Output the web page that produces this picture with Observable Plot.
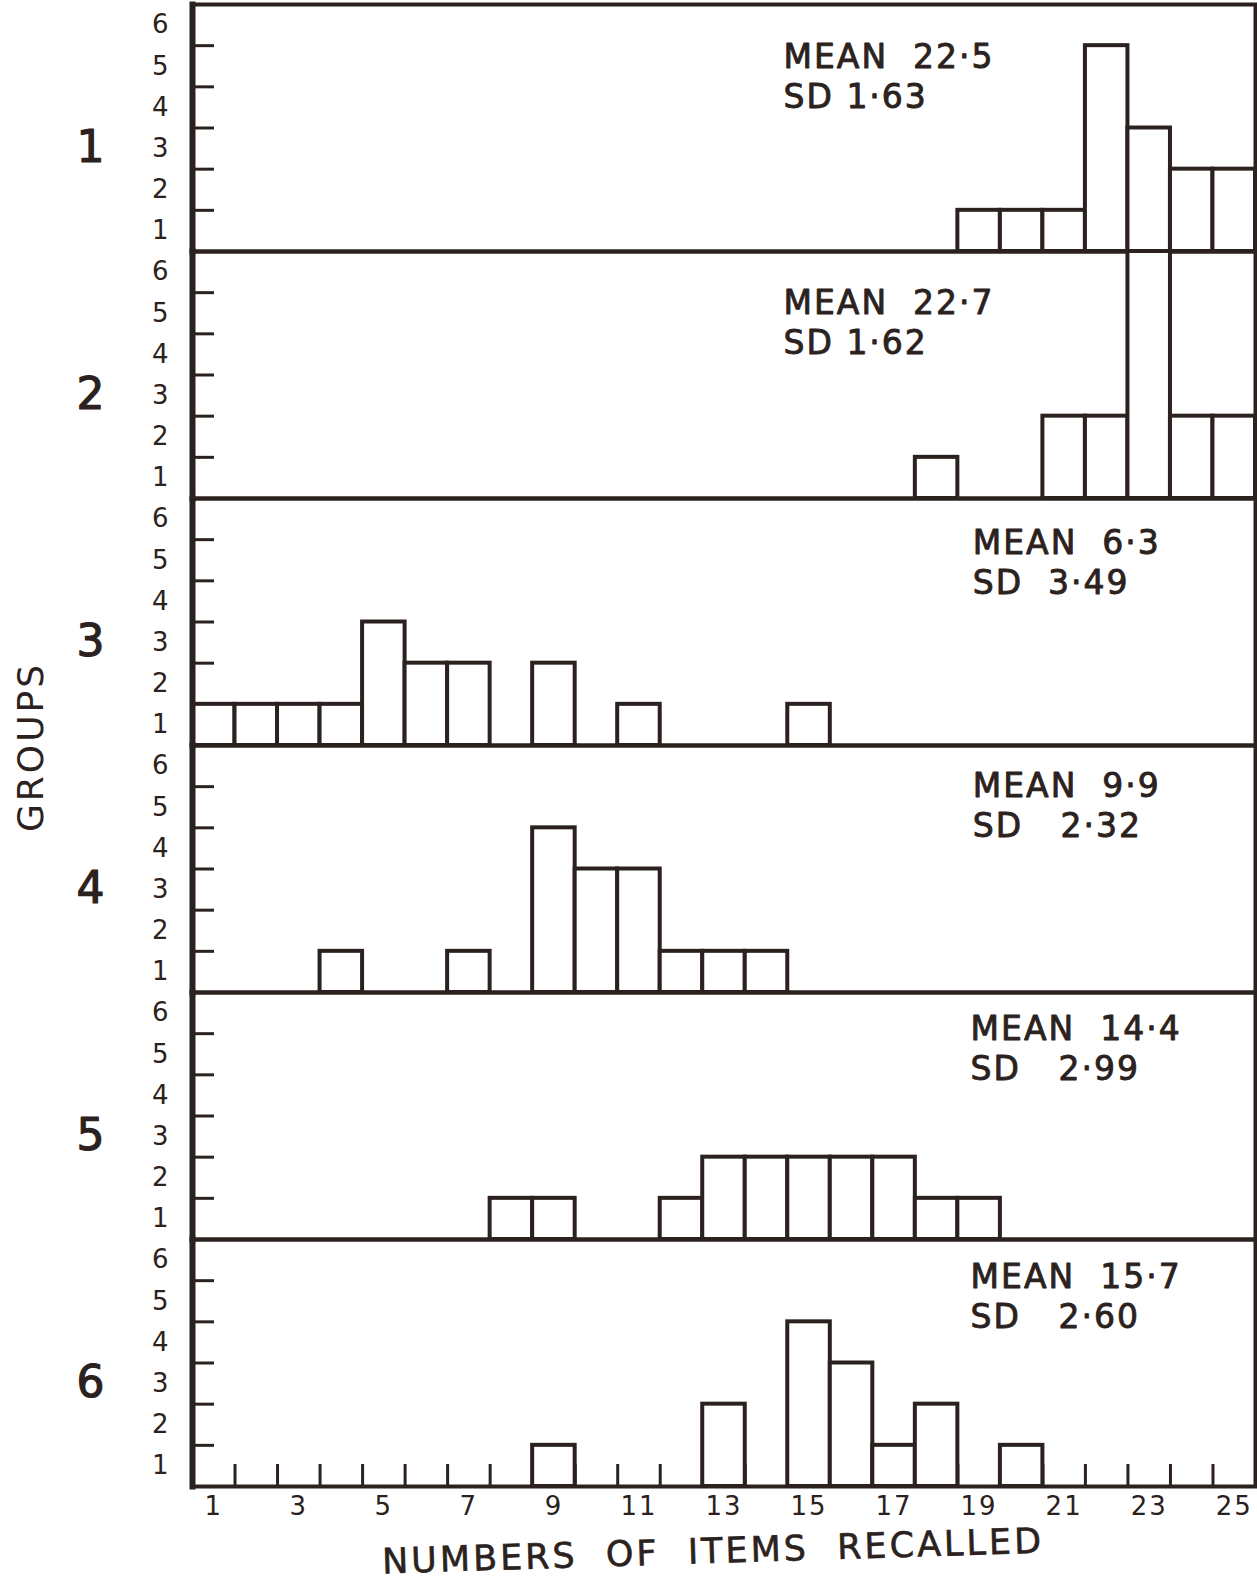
<!DOCTYPE html>
<html>
<head>
<meta charset="utf-8">
<script src="https://cdn.jsdelivr.net/npm/d3@7"></script>
<script src="https://cdn.jsdelivr.net/npm/@observablehq/plot@0.6"></script>
<style>
  html, body { margin: 0; padding: 0; background: #ffffff; overflow: hidden; }
  #chart svg { display: block; }
  #chart svg text { white-space: pre; letter-spacing: 2px; }
</style>
</head>
<body>
<div id="chart"></div>
<script>
// ---- data ----
const groups = [1, 2, 3, 4, 5, 6];
const scoreTicks = [1, 3, 5, 7, 9, 11, 13, 15, 17, 19, 21, 23, 25];
const scoreBins = [1,2,3,4,5,6,7,8,9,10,11,12,13,14,15,16,17,18,19,20,21,22,23,24,25];
const yTicks = [1, 2, 3, 4, 5];
const yLabels = [1, 2, 3, 4, 5, 6];

const g1Scores = [19, 20, 21, 22, 23, 24, 25];
const g1Counts = [1, 1, 1, 5, 3, 2, 2];
const g2Scores = [18, 21, 22, 23, 24, 25];
const g2Counts = [1, 2, 2, 6, 2, 2];
const g3Scores = [1, 2, 3, 4, 5, 6, 7, 9, 11, 15];
const g3Counts = [1, 1, 1, 1, 3, 2, 2, 2, 1, 1];
const g4Scores = [4, 7, 9, 10, 11, 12, 13, 14];
const g4Counts = [1, 1, 4, 3, 3, 1, 1, 1];
const g5Scores = [8, 9, 12, 13, 14, 15, 16, 17, 18, 19];
const g5Counts = [1, 1, 1, 2, 2, 2, 2, 2, 1, 1];
const g6Scores = [9, 13, 15, 16, 17, 18, 20];
const g6Counts = [1, 2, 4, 3, 1, 2, 1];

const meanLabels = ["MEAN  22·5", "MEAN  22·7", "MEAN  6·3", "MEAN  9·9", "MEAN  14·4", "MEAN  15·7"];
const sdLabels   = ["SD 1·63", "SD 1·62", "SD  3·49", "SD   2·32", "SD   2·99", "SD   2·60"];
// annotation anchors (in data units) for the MEAN line of each panel
const annotX = [14.4, 14.4, 18.85, 18.85, 18.8, 18.8];
const annotY = [4.72, 4.75, 4.91, 5.0, 5.1, 5.09];

// ---- build table ----
const series = [
  [1, g1Scores, g1Counts], [2, g2Scores, g2Counts], [3, g3Scores, g3Counts],
  [4, g4Scores, g4Counts], [5, g5Scores, g5Counts], [6, g6Scores, g6Counts]
];
const rows = [];
for (const [g, s, c] of series) s.forEach((v, i) => rows.push({group: g, score: v, count: c[i]}));
const annots = groups.map((g, i) => ({group: g, x: annotX[i], y: annotY[i], mean: meanLabels[i], sd: sdLabels[i]}));

const ink = "#2b2220";
const font = "DejaVu Sans";

const plot = Plot.plot({
  width: 1257,
  height: 1584,
  marginLeft: 192,
  marginRight: 2,
  marginTop: 2,
  marginBottom: 97,
  style: {fontFamily: font, fontSize: "26px", color: ink, background: "#ffffff"},
  x: {domain: [0.5, 25.5], axis: null},
  y: {domain: [0, 6], axis: null},
  fy: {domain: groups, padding: 0, axis: null},
  marks: [
    Plot.frame({stroke: ink, strokeWidth: 4}),
    // inward y ticks
    Plot.axisY(yTicks, {anchor: "left", tickSize: -22, stroke: ink, strokeWidth: 3, fill: "none", label: null}),
    // y labels sit between the ticks
    Plot.axisY(yLabels.map(d => d - 0.5), {anchor: "left", tickSize: 0, tickPadding: 22, tickFormat: d => String(d + 0.5), fontSize: 26, fill: ink, label: null}),
    // inward x ticks at bin boundaries (bottom panel)
    Plot.axisX(scoreBins.slice(0, -1).map(d => d + 0.5), {anchor: "bottom", tickSize: -22, stroke: ink, strokeWidth: 3, fill: "none", label: null}),
    Plot.axisX(scoreTicks, {anchor: "bottom", tickSize: 0, tickPadding: 10, fontSize: 26, fill: ink, label: null}),
    // bars
    Plot.rectY(rows, {x1: d => d.score - 0.5, x2: d => d.score + 0.5, y: "count", fy: "group", fill: "#ffffff", stroke: ink, strokeWidth: 4}),
    // left frame edge is heavier
    Plot.frame({anchor: "left", stroke: ink, strokeWidth: 6}),
    // group numbers
    Plot.text(groups, {fy: d => d, text: d => String(d), frameAnchor: "left", dx: -101, dy: 20, fontSize: 44, textAnchor: "middle", fill: ink, stroke: ink, strokeWidth: 1.2}),
    // mean / sd annotations
    Plot.text(annots, {fy: "group", x: "x", y: "y", text: "mean", textAnchor: "start", lineAnchor: "middle", fontSize: 33, fill: ink, stroke: ink, strokeWidth: 0.9}),
    Plot.text(annots, {fy: "group", x: "x", y: "y", text: "sd", dy: 40, textAnchor: "start", lineAnchor: "middle", fontSize: 33, fill: ink, stroke: ink, strokeWidth: 0.9})
  ]
});

const svg = d3.select(plot);
svg.append("text")
  .attr("transform", "translate(30,747) rotate(-90)")
  .attr("text-anchor", "middle")
  .attr("dominant-baseline", "central")
  .attr("font-size", 36)
  .attr("fill", ink)
  .style("letter-spacing", "3px")
  .text("GROUPS");
svg.append("text")
  .attr("transform", "translate(713,1551) rotate(-1.8)")
  .attr("text-anchor", "middle")
  .attr("dominant-baseline", "central")
  .attr("font-size", 35)
  .attr("fill", ink)
  .attr("stroke", ink)
  .attr("stroke-width", 0.6)
  .style("letter-spacing", "3px")
  .text("NUMBERS  OF  ITEMS  RECALLED");

document.getElementById("chart").appendChild(plot);
</script>
</body>
</html>
